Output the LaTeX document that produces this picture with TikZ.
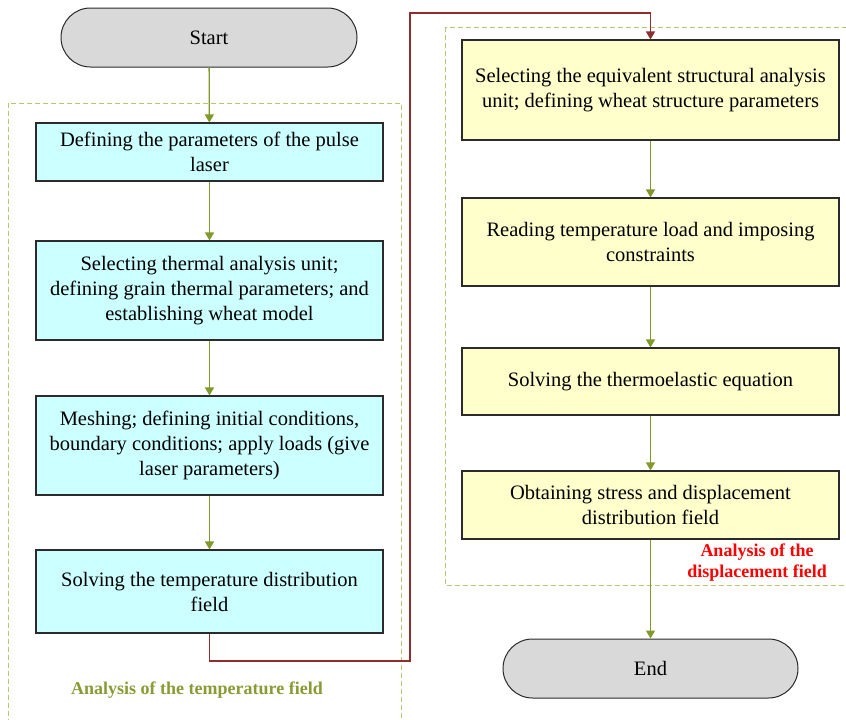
\documentclass[tikz,border=0pt]{standalone}
\usepackage{fontspec}
\setmainfont{Liberation Serif}
\usetikzlibrary{arrows.meta}
\definecolor{cyanfill}{HTML}{CCFFFF}
\definecolor{yelfill}{HTML}{FFFFCC}
\definecolor{grayfill}{HTML}{D9D9D9}
\definecolor{boxline}{HTML}{2B2B2B}
\definecolor{olivearrow}{HTML}{7F9A2A}
\definecolor{olivetext}{HTML}{8A9A34}
\definecolor{dashcol}{HTML}{B8C575}
\definecolor{darkred}{HTML}{8E2F2F}
\definecolor{brightred}{HTML}{FF0000}
\tikzset{
  maintext/.style={font=\fontsize{20.5}{25}\selectfont},
  procbox/.style={draw=boxline, line width=1.1pt, align=center, inner sep=0pt, maintext},
  leftbox/.style={procbox, fill=cyanfill, minimum width=347pt},
  rightbox/.style={procbox, fill=yelfill, minimum width=377pt},
  terminal/.style={draw=boxline, line width=1pt, fill=grayfill, rounded corners=29.5pt, minimum width=296pt, minimum height=59pt, inner sep=0pt, maintext},
  flowarrow/.style={draw=olivearrow, line width=1.3pt, -{Triangle[width=9pt,length=8pt]}},
  jumparrow/.style={draw=darkred, line width=1.5pt, -{Triangle[width=9pt,length=8pt]}},
  groupframe/.style={draw=dashcol, line width=1pt, dash pattern=on 5pt off 3pt},
  grouplabel/.style={font=\bfseries\fontsize{18}{21}\selectfont, align=center}
}
\begin{document}
\begin{tikzpicture}[x=1pt,y=-1pt]
\useasboundingbox (0,0) rectangle (846,720);
\fill[white] (0,0) rectangle (846,720);
% group frames
\draw[groupframe] (8,103) rectangle (401,730);
\draw[groupframe] (445,27) rectangle (856,585);
% nodes
\node[terminal] (start) at (209,37.5) {Start};
\node[leftbox, minimum height=58pt] (b1) at (209.5,152) {Defining the parameters of the pulse\\laser};
\node[leftbox, minimum height=99pt] (b2) at (209.5,290.5) {Selecting thermal analysis unit;\\defining grain thermal parameters; and\\establishing wheat model};
\node[leftbox, minimum height=99pt] (b3) at (209.5,445.5) {Meshing; defining initial conditions,\\boundary conditions; apply loads (give\\laser parameters)};
\node[leftbox, minimum height=83pt] (b4) at (209.5,591.5) {Solving the temperature distribution\\field};
\node[rightbox, minimum height=100pt] (b5) at (650.5,90) {Selecting the equivalent structural analysis\\unit; defining wheat structure parameters};
\node[rightbox, minimum height=88pt] (b6) at (650.5,242) {Reading temperature load and imposing\\constraints};
\node[rightbox, minimum height=67pt] (b7) at (650.5,381.5) {Solving the thermoelastic equation};
\node[rightbox, minimum height=68pt] (b8) at (650.5,505) {Obtaining stress and displacement\\distribution field};
\node[terminal, minimum width=295pt] (end) at (650.5,668.5) {End};
% labels
\node[grouplabel, text=olivetext] (lt) at (197,690) {Analysis of the temperature field};
\node[grouplabel, text=brightred] (ld) at (757,563) {Analysis of the\\displacement field};
% connectors
\draw[flowarrow] (start) -- (b1);
\draw[flowarrow] (b1) -- (b2);
\draw[flowarrow] (b2) -- (b3);
\draw[flowarrow] (b3) -- (b4);
\draw[flowarrow] (b5) -- (b6);
\draw[flowarrow] (b6) -- (b7);
\draw[flowarrow] (b7) -- (b8);
\draw[flowarrow] (b8) -- (end);
\coordinate (r1) at (410,661);
\coordinate (r2) at (410,13);
\draw[jumparrow] (b4.south) |- (r1) -- (r2) -| (b5.north);
\end{tikzpicture}
\end{document}
